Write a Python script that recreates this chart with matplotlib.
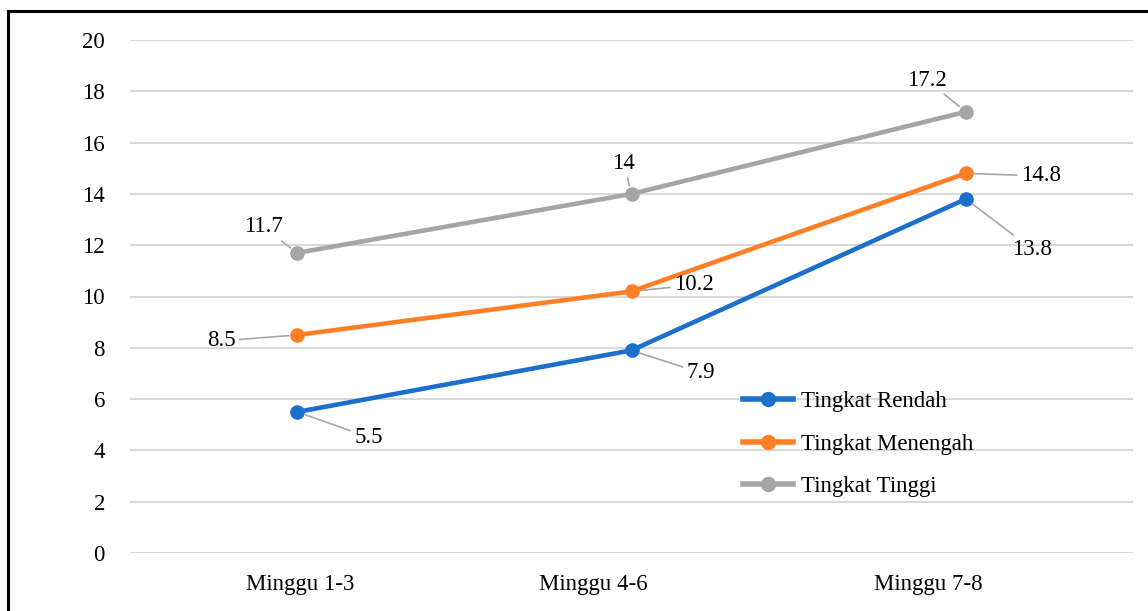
import matplotlib
matplotlib.use("Agg")
import matplotlib.pyplot as plt
import matplotlib.transforms as mtransforms
from matplotlib.lines import Line2D

# Data
categories = ["Minggu 1-3", "Minggu 4-6", "Minggu 7-8"]
rendah = [5.5, 7.9, 13.8]
menengah = [8.5, 10.2, 14.8]
tinggi = [11.7, 14, 17.2]
series_names = ["Tingkat Rendah", "Tingkat Menengah", "Tingkat Tinggi"]
y_ticks = [0, 2, 4, 6, 8, 10, 12, 14, 16, 18, 20]

colors = ["#1c6fca", "#ff7f27", "#a5a5a5"]
series = [rendah, menengah, tinggi]

# Data-label anchor points (data coordinates) per series
label_pos = [
    [(0.213, 4.52), (1.208, 7.02), (2.198, 11.85)],
    [(-0.228, 8.27), (1.187, 10.45), (2.225, 14.70)],
    [(-0.102, 12.71), (0.977, 15.2), (1.883, 18.44)],
]

FS = 16.5
plt.rcParams["font.family"] = ["Liberation Serif", "DejaVu Serif"]

fig = plt.figure(figsize=(11.48, 6.11), dpi=100)
ax = fig.add_axes([130 / 1148, 1 - 553 / 611, 1003 / 1148, 513 / 611])

x = list(range(len(categories)))
for vals, col, name in zip(series, colors, series_names):
    ax.plot(x, vals, color=col, lw=3.3, marker="o", markersize=9.5,
            solid_capstyle="round", label=name, zorder=3)

for vals, positions in zip(series, label_pos):
    for i, (v, (tx, ty)) in enumerate(zip(vals, positions)):
        txt = f"{v:g}"
        ax.annotate(txt, xy=(i, v), xytext=(tx, ty), textcoords="data",
                    ha="center", va="center", fontsize=FS, color="black",
                    arrowprops=dict(arrowstyle="-", color="#a6a6a6", lw=1.2,
                                    shrinkA=1, shrinkB=6),
                    zorder=4)

ax.set_xlim(-0.5, 2.5)
ax.set_ylim(0, 20)
ax.set_yticks(y_ticks)
ax.set_yticklabels([str(t) for t in y_ticks], fontsize=FS)
ax.set_xticks(x)
ax.set_xticklabels(categories, fontsize=FS)
ax.tick_params(axis="both", length=0)
ax.tick_params(axis="y", pad=18)
ax.tick_params(axis="x", pad=15)
ax.grid(axis="y", color="#d9d9d9", lw=1.5)
ax.set_axisbelow(True)
for s in ax.spines.values():
    s.set_visible(False)

# nudge category labels to the left
shifts = [3, -38, -38]
for lab, dx in zip(ax.get_xticklabels(), shifts):
    lab.set_transform(lab.get_transform() +
                      mtransforms.ScaledTranslation(dx / 100, 0, fig.dpi_scale_trans))

handles = [Line2D([0], [0], color=c, lw=4, marker="o", markersize=10) for c in colors]
ax.legend(handles, series_names, loc="upper left", bbox_to_anchor=(0.611, 0.315),
          frameon=False, fontsize=FS, handlelength=2.2, handletextpad=0.35,
          labelspacing=0.92, borderaxespad=0, borderpad=0)

# outer frame: top and left edges
fig.add_artist(Line2D([8 / 1148, 1], [1 - 11 / 611, 1 - 11 / 611],
                      transform=fig.transFigure, color="black", lw=2.2))
fig.add_artist(Line2D([8 / 1148, 8 / 1148], [0, 1 - 11 / 611],
                      transform=fig.transFigure, color="black", lw=2.2))

fig.savefig("out.png", dpi=100)
